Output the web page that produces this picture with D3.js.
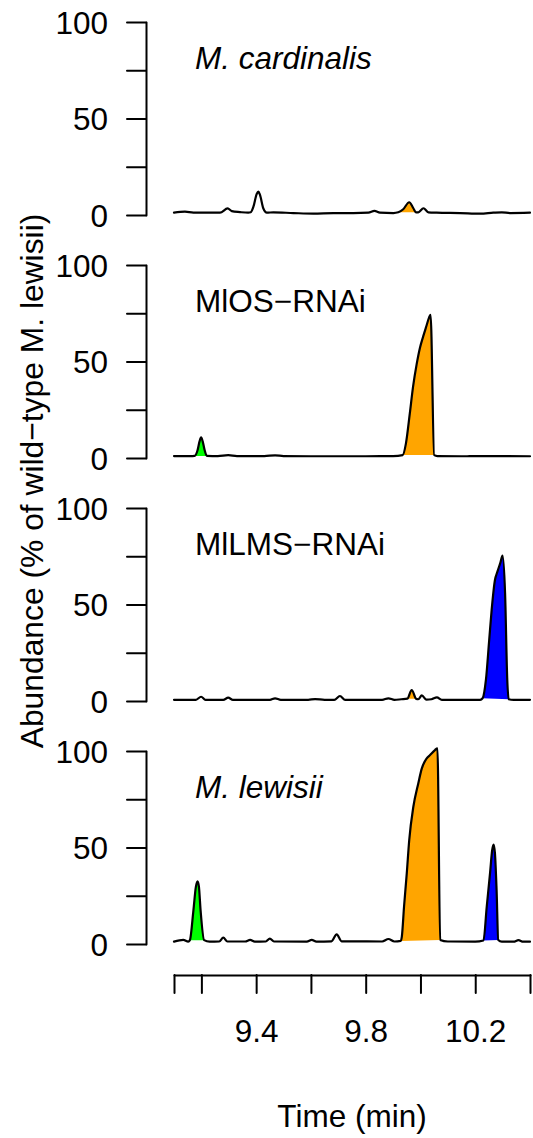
<!DOCTYPE html>
<html>
<head>
<meta charset="utf-8">
<script src="https://cdn.jsdelivr.net/npm/d3@7"></script>
<style>
  html, body { margin: 0; padding: 0; background: #ffffff; }
  svg { display: block; }
</style>
</head>
<body>
<script>
// ---------- DATA ----------
const panelNames = ["M. cardinalis", "MlOS\u2212RNAi", "MlLMS\u2212RNAi", "M. lewisii"];
const panelItalic = [true, false, false, true];

const timeCard = [9.100, 9.140, 9.171, 9.231, 9.268, 9.296, 9.311, 9.341, 9.371, 9.380, 9.390, 9.402, 9.408, 9.414, 9.426, 9.439, 9.463, 9.536, 9.609, 9.682, 9.755, 9.810, 9.832, 9.852, 9.901, 9.919, 9.937, 9.959, 9.974, 9.984, 9.992, 10.011, 10.029, 10.059, 10.145, 10.218, 10.266, 10.297, 10.327, 10.400];
const abundCard = [1.2, 1.7, 1.2, 1.2, 1.2, 3.4, 2.0, 1.5, 1.2, 1.4, 4.3, 10.9, 12.1, 10.4, 3.5, 1.2, 1.4, 1.0, 0.7, 1.0, 1.0, 1.2, 2.1, 1.2, 1.0, 1.4, 3.0, 6.6, 3.5, 1.4, 1.4, 3.5, 1.4, 1.2, 1.0, 0.7, 1.2, 1.4, 1.0, 1.2];

const timeOS = [9.100, 9.160, 9.175, 9.186, 9.193, 9.199, 9.205, 9.212, 9.220, 9.260, 9.298, 9.330, 9.430, 9.469, 9.500, 9.600, 9.700, 9.800, 9.900, 9.935, 9.947, 9.961, 9.973, 9.986, 9.998, 10.010, 10.022, 10.032, 10.037, 10.050, 10.062, 10.150, 10.250, 10.300, 10.400];
const abundOS = [1.0, 1.0, 1.1, 4.0, 8.5, 10.7, 8.5, 4.0, 1.1, 1.0, 1.5, 1.0, 1.0, 1.4, 1.0, 0.9, 0.9, 0.9, 1.0, 1.5, 7.6, 23.0, 37.0, 48.5, 57.0, 63.0, 68.5, 73.0, 74.2, 1.5, 1.0, 0.9, 1.0, 1.0, 0.9];

const timeLMS = [9.100, 9.180, 9.199, 9.215, 9.280, 9.298, 9.315, 9.450, 9.469, 9.490, 9.590, 9.615, 9.650, 9.685, 9.706, 9.725, 9.860, 9.883, 9.905, 9.930, 9.952, 9.968, 9.984, 9.992, 10.005, 10.022, 10.040, 10.060, 10.078, 10.218, 10.227, 10.239, 10.251, 10.260, 10.272, 10.281, 10.291, 10.300, 10.309, 10.317, 10.322, 10.340, 10.400];
const abundLMS = [0.6, 0.6, 2.2, 0.6, 0.6, 1.7, 0.6, 0.6, 1.4, 0.6, 0.6, 1.0, 0.6, 0.6, 2.6, 0.6, 0.6, 1.4, 0.6, 0.9, 1.2, 5.7, 1.2, 0.9, 2.9, 0.7, 0.9, 1.9, 0.6, 0.6, 1.4, 10.9, 31.6, 47.2, 62.7, 67.0, 71.3, 75.3, 55.8, 10.9, 0.9, 0.6, 0.6];

const timeLew = [9.100, 9.134, 9.152, 9.158, 9.171, 9.180, 9.186, 9.191, 9.197, 9.210, 9.230, 9.265, 9.280, 9.295, 9.360, 9.378, 9.395, 9.435, 9.450, 9.465, 9.585, 9.603, 9.620, 9.675, 9.694, 9.712, 9.860, 9.883, 9.905, 9.928, 9.932, 9.940, 9.950, 9.959, 9.974, 9.992, 10.005, 10.023, 10.035, 10.053, 10.062, 10.072, 10.100, 10.200, 10.230, 10.242, 10.254, 10.262, 10.267, 10.272, 10.278, 10.284, 10.297, 10.340, 10.358, 10.375, 10.400];
const abundLew = [1.2, 2.1, 1.2, 2.0, 17.6, 29.7, 32.5, 29.7, 17.6, 2.0, 1.2, 1.3, 3.3, 1.3, 1.3, 2.1, 1.2, 1.3, 2.8, 1.3, 1.2, 2.1, 1.2, 1.4, 5.0, 1.4, 1.3, 2.6, 1.3, 1.6, 3.8, 19.3, 36.6, 53.9, 71.1, 83.2, 91.0, 96.2, 97.9, 100.5, 101.4, 2.1, 1.3, 1.2, 1.8, 19.3, 36.6, 48.7, 51.5, 47.0, 28.0, 2.1, 1.2, 1.2, 2.0, 1.2, 1.2];

// filled peaks: panel index, start time, end time, colour
const fillPanel = [0, 1, 1, 2, 2, 3, 3, 3];
const fillStart = [9.919, 9.175, 9.935, 9.952, 10.227, 9.158, 9.928, 10.230];
const fillEnd   = [9.984, 9.220, 10.050, 9.984, 10.322, 9.210, 10.072, 10.284];
const fillColor = ["orange", "#00ff00", "orange", "orange", "#0000ff", "#00ff00", "orange", "#0000ff"];

const yTicks = [0, 25, 50, 75, 100];
const yTickLabels = [0, 50, 100];
const xTicks = [9.1, 9.2, 9.4, 9.6, 9.8, 10.0, 10.2, 10.4];
const xTickLabels = ["9.4", "9.8", "10.2"];

const xTitle = "Time (min)";
const yTitle = "Abundance (% of wild\u2212type M. lewisii)";

// ---------- LAYOUT ----------
const W = 533, H = 1138;
const FONT = "'Liberation Sans', Arial, Helvetica, sans-serif";
const FS = 31.5;
const xLeft = 174, xRight = 530;
const panelTop0 = 22, panelBottom0 = 215, panelStep = 243;
const axisX = 146;
const xAxisY = 975;

const series = [
  timeCard.map((t, i) => [t, abundCard[i]]),
  timeOS.map((t, i) => [t, abundOS[i]]),
  timeLMS.map((t, i) => [t, abundLMS[i]]),
  timeLew.map((t, i) => [t, abundLew[i]])
];

const svg = d3.select("body").append("svg")
  .attr("width", W).attr("height", H)
  .style("background", "#fff");

const x = d3.scaleLinear().domain([9.1, 10.4]).range([xLeft, xRight]);

series.forEach((data, p) => {
  const y = d3.scaleLinear().domain([0, 100])
    .range([panelBottom0 + p * panelStep, panelTop0 + p * panelStep]);

  const line = d3.line().x(d => x(d[0])).y(d => y(d[1])).curve(d3.curveMonotoneX);

  // fills
  fillPanel.forEach((fp, k) => {
    if (fp !== p) return;
    const seg = data.filter(d => d[0] >= fillStart[k] - 1e-9 && d[0] <= fillEnd[k] + 1e-9);
    svg.append("path")
      .attr("d", line(seg) + "Z")
      .attr("fill", fillColor[k])
      .attr("stroke", "none");
  });

  // trace
  svg.append("path")
    .attr("d", line(data))
    .attr("fill", "none")
    .attr("stroke", "#000")
    .attr("stroke-width", 2.2)
    .attr("stroke-linejoin", "round")
    .attr("stroke-linecap", "round");

  // y axis
  const yAxis = d3.axisLeft(y)
    .tickValues(yTicks)
    .tickSize(19)
    .tickSizeOuter(0)
    .tickPadding(19)
    .tickFormat(v => yTickLabels.includes(v) ? String(v) : "");
  const gy = svg.append("g").attr("transform", `translate(${axisX},0)`).call(yAxis);
  gy.attr("font-family", FONT).attr("font-size", FS);
  gy.selectAll("path, line").attr("stroke", "#000").attr("stroke-width", 2).attr("stroke-linecap", "round");
  gy.selectAll("text").attr("fill", "#000").attr("dy", "0.35em");

  // panel label
  svg.append("text")
    .attr("x", 195)
    .attr("y", 69 + p * panelStep)
    .attr("font-family", FONT)
    .attr("font-size", FS)
    .attr("font-style", panelItalic[p] ? "italic" : "normal")
    .attr("fill", "#000")
    .text(panelNames[p]);
});

// x axis
const xAxis = d3.axisBottom(x)
  .tickValues(xTicks)
  .tickSize(18)
  .tickSizeOuter(0)
  .tickPadding(27)
  .tickFormat(v => {
    const s = d3.format(".1f")(v);
    return xTickLabels.includes(s) ? s : "";
  });
const gx = svg.append("g").attr("transform", `translate(0,${xAxisY})`).call(xAxis);
gx.attr("font-family", FONT).attr("font-size", FS);
gx.selectAll("path, line").attr("stroke", "#000").attr("stroke-width", 2).attr("stroke-linecap", "round");
gx.selectAll("text").attr("fill", "#000");

// axis titles
svg.append("text")
  .attr("x", (xLeft + xRight) / 2)
  .attr("y", 1127)
  .attr("text-anchor", "middle")
  .attr("font-family", FONT)
  .attr("font-size", FS)
  .attr("fill", "#000")
  .text(xTitle);

svg.append("text")
  .attr("transform", "translate(43,481) rotate(-90)")
  .attr("text-anchor", "middle")
  .attr("font-family", FONT)
  .attr("font-size", 31.8)
  .attr("fill", "#000")
  .text(yTitle);
</script>
</body>
</html>
